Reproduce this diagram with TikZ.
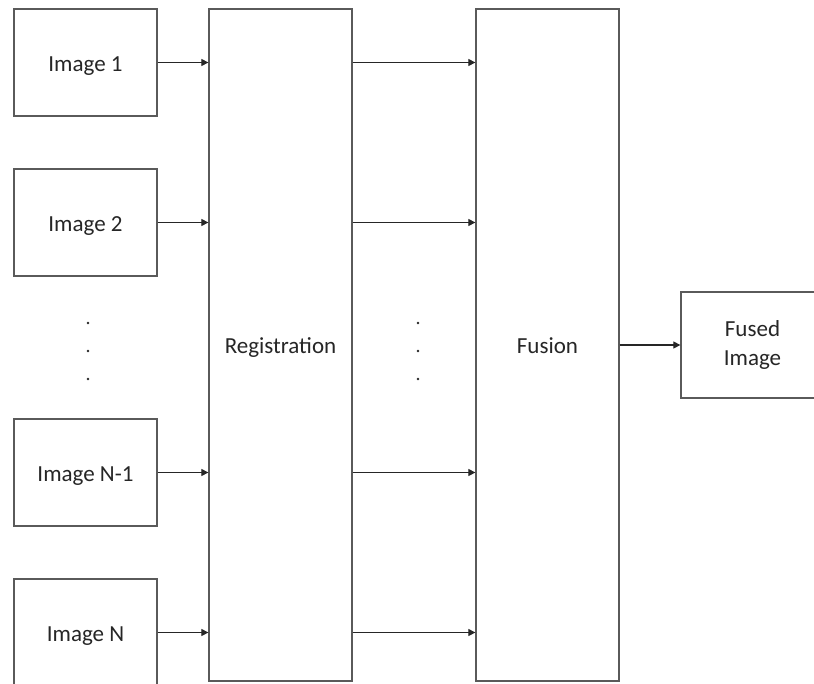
\documentclass[tikz,border=0pt]{standalone}
\usepackage{fontspec}
\setmainfont{Carlito}
\usetikzlibrary{arrows.meta}
\definecolor{edge}{HTML}{5A5A5A}
\definecolor{ink}{HTML}{262626}
\tikzset{
  blk/.style={draw=edge, line width=1.3pt, fill=white, minimum width=143pt,
    inner sep=0pt, align=center, text=ink, font=\fontsize{23}{28.5}\selectfont},
  oneline/.style={text height=17pt, text depth=0pt},
  imgbox/.style={blk, oneline, minimum height=107pt},
  tallbox/.style={blk, oneline, minimum height=672pt},
  arr/.style={draw=ink, line width=1.2pt, -{Triangle[length=7pt,width=7pt]}},
  vdot/.style={fill=ink}
}
\begin{document}
\begin{tikzpicture}[x=1pt,y=-1pt]
  \useasboundingbox (0,0) rectangle (814,683);
  \clip (0,0) rectangle (814,683);
  \fill[white] (0,0) rectangle (814,683);

  % input images
  \node[imgbox] (i1) at (85.5,62.5) {Image 1};
  \node[imgbox] (i2) at (85.5,222.5) {Image 2};
  \node[imgbox] (i3) at (85.5,472.5) {Image N-1};
  \node[imgbox] (i4) at (85.5,632.5) {Image N};

  % processing stages
  \node[tallbox] (reg) at (280.5,345) {Registration};
  \node[tallbox] (fus) at (547.5,345) {Fusion};

  % output
  \node[blk, minimum height=106pt] (out) at (752.5,345) {Fused\\Image};

  % connectors
  \foreach \n in {i1,i2,i3,i4} {
    \draw[arr] (\n.east) -- (\n.east -| reg.west);
    \draw[arr] (\n.east -| reg.east) -- (\n.east -| fus.west);
  }
  \draw[arr] (fus.east |- out.west) -- (out.west);

  % ellipsis dots
  \foreach \y in {323,351,379} {
    \fill[vdot] (88,\y) circle (1.3pt);
    \fill[vdot] (418,\y) circle (1.3pt);
  }
\end{tikzpicture}
\end{document}
